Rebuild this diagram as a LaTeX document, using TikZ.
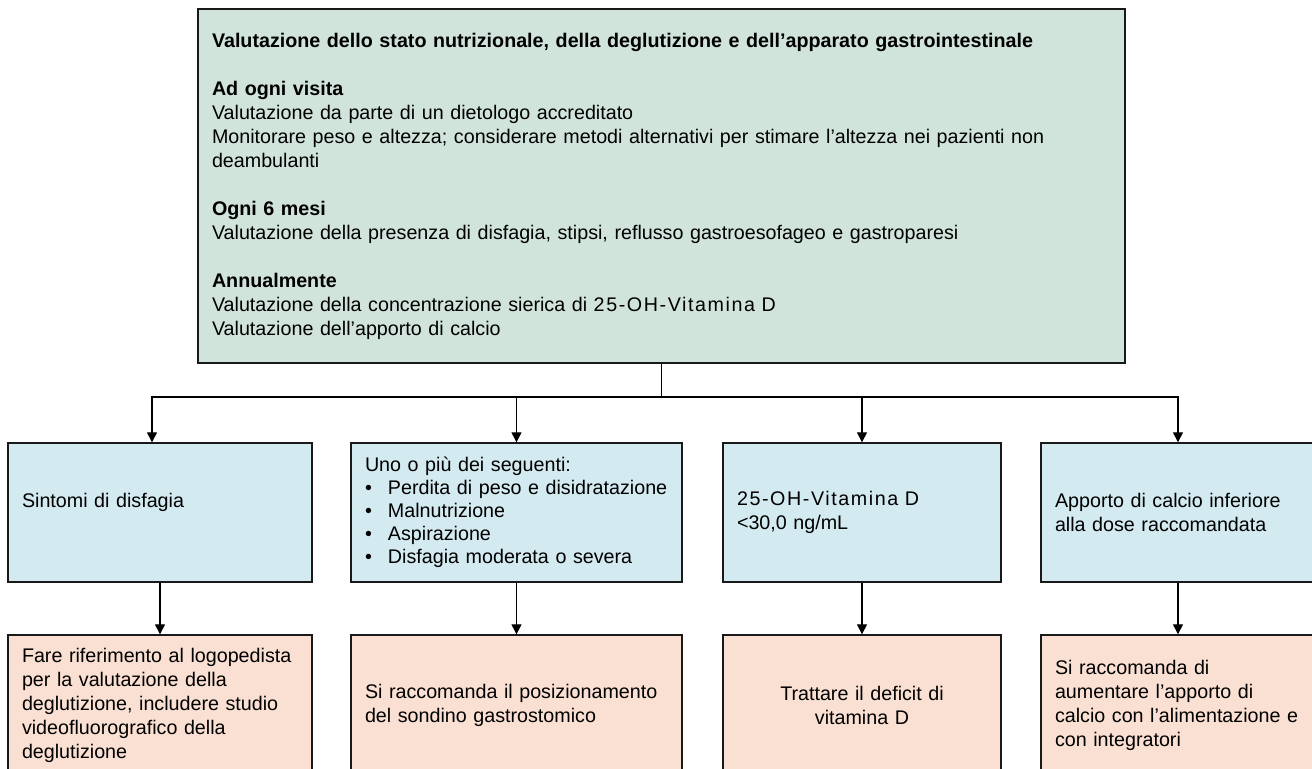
\documentclass[tikz,border=0pt]{standalone}
\usepackage{fontspec}
\setmainfont{Liberation Sans}
\newfontfamily\vitD[LetterSpace=8]{Liberation Sans}
\usetikzlibrary{arrows.meta,calc}
\definecolor{evalgreen}{RGB}{209,228,220}
\definecolor{condblue}{RGB}{211,234,240}
\definecolor{actpeach}{RGB}{250,224,211}
\newcommand{\bul}{\makebox[11.5pt][l]{•}}
\tikzset{
    box/.style =    {rectangle,
                    draw=black!90,
                    line width=0.7pt,
                    text=black,
                    align=left,
                    inner xsep=7pt,
                    inner ysep=0pt,
                    font=\fontsize{9.85}{12}\selectfont},
    evalbox/.style = {box,
                    fill=evalgreen,
                    text width=449.5pt,
                    minimum height=177pt},
    cond/.style =   {box,
                    fill=condblue,
                    minimum height=69.5pt},
    act/.style =    {box,
                    fill=actpeach,
                    minimum height=70pt},
    -,
    link/.style =   {draw=black,
                    line width=0.65pt},
    >={Triangle[length=5pt,width=5pt]}}

\begin{document}
\begin{tikzpicture}[x=0.5pt,y=-0.5pt]
        \useasboundingbox (0,0) rectangle (1312,769);
        \clip (0,0) rectangle (1312,769);
                \node[evalbox]  (eval) at (661.5,186) {\textbf{Valutazione dello stato nutrizionale, della deglutizione e dell’apparato gastrointestinale}\\[12pt]
                    \textbf{Ad ogni visita}\\
                    Valutazione da parte di un dietologo accreditato\\
                    Monitorare peso e altezza; considerare metodi alternativi per stimare l’altezza nei pazienti non\\
                    deambulanti\\[12pt]
                    \textbf{Ogni 6 mesi}\\
                    Valutazione della presenza di disfagia, stipsi, reflusso gastroesofageo e gastroparesi\\[12pt]
                    \textbf{Annualmente}\\
                    Valutazione della concentrazione sierica di {\vitD 25-OH-Vitamina D}\\
                    Valutazione dell’apporto di calcio};
                \node[cond,text width=138pt]    (b1) at (160,512.5)   {Sintomi di disfagia\\ \mbox{}};
                \node[cond,text width=151.5pt,font=\fontsize{9.85}{11.5}\selectfont]  (b2) at (516.5,512.5) {Uno o più dei seguenti:\\
                    \mbox{\bul Perdita di peso e disidratazione}\\
                    \bul Malnutrizione\\
                    \bul Aspirazione\\
                    \bul Disfagia moderata o severa};
                \node[cond,text width=125pt]    (b3) at (862,512.5)   {{\vitD 25-OH-Vitamina D}\\ <30,0 ng/mL};
                \node[cond,text width=123pt]    (b4) at (1178,512.5)  {Apporto di calcio inferiore\\ alla dose raccomandata};
                \node[act,text width=138pt]     (o1) at (160,705)     {Fare riferimento al logopedista\\ per la valutazione della\\ deglutizione, includere studio\\ videofluorografico della\\ deglutizione};
                \node[act,text width=151.5pt]   (o2) at (516.5,705)   {\mbox{Si raccomanda il posizionamento}\\ del sondino gastrostomico};
                \node[act,text width=125pt,align=center] (o3) at (862,705) {Trattare il deficit di\\ vitamina D};
                \node[act,text width=123pt]     (o4) at (1178,705)    {Si raccomanda di\\ aumentare l’apporto di\\ \mbox{calcio con l’alimentazione e}\\ con integratori};
                \coordinate (split) at (661.5,397);
                \path [link]    (eval.south) -- (split);
                \path [link,->] (split) -| ($(b1.north)+(-8,0)$);
                \path [link,->] (split) -| (b2.north);
                \path [link,->] (split) -| (b3.north);
                \path [link,->] (split) -| (b4.north);
                \path [link,->] (b1) -- (o1);
                \path [link,->] (b2) -- (o2);
                \path [link,->] (b3) -- (o3);
                \path [link,->] (b4) -- (o4);
        \end{tikzpicture}
\end{document}
